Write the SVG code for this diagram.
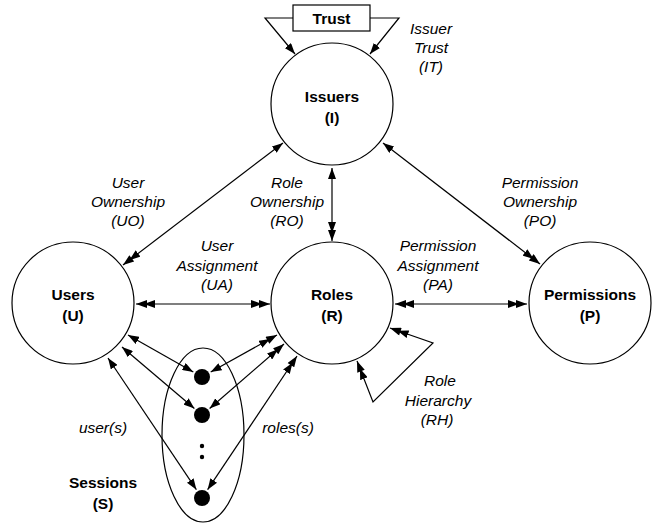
<svg xmlns="http://www.w3.org/2000/svg" width="662" height="525" viewBox="0 0 662 525">
<style>
.n{fill:#fff;stroke:#000;stroke-width:1.2}
.b{font-family:"Liberation Sans",Arial,sans-serif;font-weight:bold;font-size:15.5px;text-anchor:middle}
.i{font-family:"Liberation Sans",Arial,sans-serif;font-style:italic;font-size:15.5px;text-anchor:middle}
.c line,.c polyline{fill:none;stroke:#000;stroke-width:1.2}
</style>
<defs>
<marker id="s" viewBox="0 0 11 8" refX="11" refY="4" markerWidth="11" markerHeight="8" markerUnits="userSpaceOnUse" orient="auto-start-reverse"><path d="M0,0L11,4L0,8Z"/></marker>
<marker id="d" viewBox="0 0 19 8" refX="19" refY="4" markerWidth="19" markerHeight="8" markerUnits="userSpaceOnUse" orient="auto-start-reverse"><path d="M8,0L19,4L8,8ZM0,0L11,4L0,8Z"/></marker>
</defs>
<g id="sessions">
<ellipse class="n" cx="203" cy="435" rx="41" ry="87"/>
<circle cx="202" cy="377" r="8"/>
<circle cx="202" cy="415" r="8"/>
<circle cx="202" cy="446" r="2.2"/>
<circle cx="202" cy="457" r="2.2"/>
<circle cx="202" cy="498" r="8"/>
<text class="b" x="103" y="488">Sessions</text>
<text class="b" x="103" y="509">(S)</text>
</g>
<g id="trust">
<rect class="n" x="293" y="5" width="77" height="26"/>
<text class="b" x="331.5" y="24">Trust</text>
</g>
<g id="issuers">
<circle class="n" cx="332" cy="104" r="61"/>
<text class="b" x="332" y="102">Issuers</text>
<text class="b" x="332" y="123">(I)</text>
</g>
<g id="users">
<circle class="n" cx="73" cy="303" r="61"/>
<text class="b" x="73" y="300">Users</text>
<text class="b" x="73" y="321">(U)</text>
</g>
<g id="roles">
<circle class="n" cx="332" cy="303" r="61"/>
<text class="b" x="332" y="300">Roles</text>
<text class="b" x="332" y="321">(R)</text>
</g>
<g id="permissions">
<circle class="n" cx="590" cy="303" r="61"/>
<text class="b" x="590" y="300">Permissions</text>
<text class="b" x="590" y="321">(P)</text>
</g>
<g id="connectors" class="c">
<polyline points="293,18 265,18 295,54" marker-end="url(#s)"/>
<polyline points="370,18 399,18 370,54" marker-end="url(#s)"/>
<line x1="136" y1="304" x2="270" y2="304" marker-start="url(#d)" marker-end="url(#d)"/>
<line x1="395" y1="304" x2="527" y2="304" marker-start="url(#d)" marker-end="url(#d)"/>
<line x1="332" y1="168" x2="332" y2="241" marker-start="url(#s)" marker-end="url(#d)"/>
<line x1="283" y1="143" x2="123" y2="265" marker-start="url(#s)" marker-end="url(#d)"/>
<line x1="383" y1="143" x2="540" y2="264" marker-start="url(#s)" marker-end="url(#d)"/>
<polyline points="390,328 433,343 373,402 357,361" marker-start="url(#d)" marker-end="url(#d)"/>
<line x1="128" y1="335" x2="193.3" y2="372" marker-start="url(#s)" marker-end="url(#s)"/>
<line x1="122" y1="347" x2="194.4" y2="408.5" marker-start="url(#s)" marker-end="url(#s)"/>
<line x1="108" y1="358" x2="196.4" y2="489.7" marker-start="url(#s)" marker-end="url(#s)"/>
<line x1="210.7" y1="372" x2="277" y2="335" marker-start="url(#s)" marker-end="url(#d)"/>
<line x1="209.6" y1="408.5" x2="284" y2="344" marker-start="url(#s)" marker-end="url(#d)"/>
<line x1="207.6" y1="489.7" x2="297" y2="356" marker-start="url(#s)" marker-end="url(#d)"/>
</g>
<g id="labels">
<text class="i" x="431" y="34">Issuer</text>
<text class="i" x="431" y="53">Trust</text>
<text class="i" x="431" y="72">(IT)</text>
<text class="i" x="128" y="188">User</text>
<text class="i" x="128" y="207">Ownership</text>
<text class="i" x="128" y="226">(UO)</text>
<text class="i" x="287" y="188">Role</text>
<text class="i" x="287" y="207">Ownership</text>
<text class="i" x="287" y="226">(RO)</text>
<text class="i" x="540" y="188">Permission</text>
<text class="i" x="540" y="207">Ownership</text>
<text class="i" x="540" y="226">(PO)</text>
<text class="i" x="217" y="251">User</text>
<text class="i" x="217" y="271">Assignment</text>
<text class="i" x="217" y="290">(UA)</text>
<text class="i" x="438" y="251">Permission</text>
<text class="i" x="438" y="271">Assignment</text>
<text class="i" x="438" y="290">(PA)</text>
<text class="i" x="440" y="386">Role</text>
<text class="i" x="438" y="406">Hierarchy</text>
<text class="i" x="437" y="425">(RH)</text>
<text class="i" x="103" y="433">user(s)</text>
<text class="i" x="288" y="433">roles(s)</text>
</g>
</svg>
